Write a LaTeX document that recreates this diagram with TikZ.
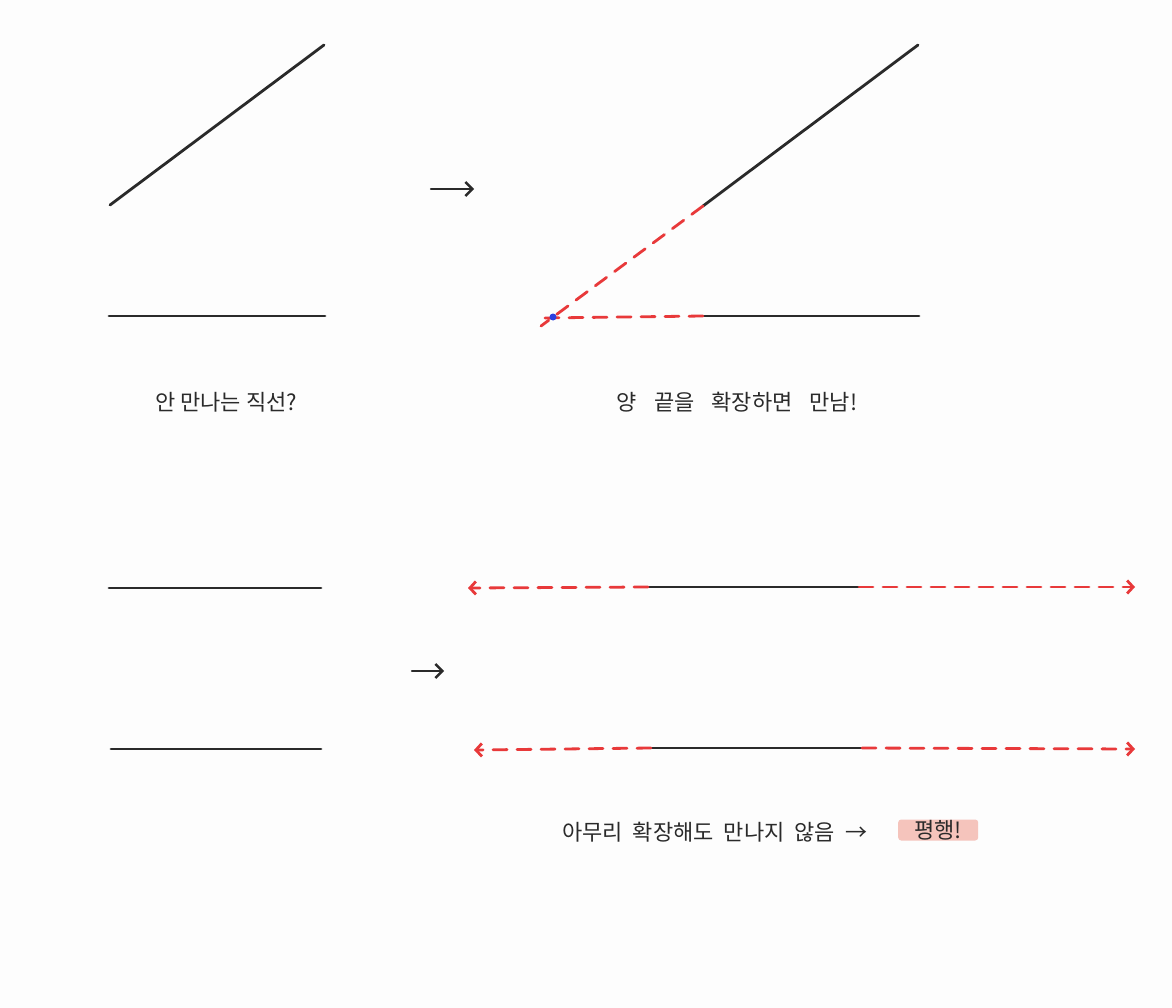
\documentclass[tikz,border=0pt]{standalone}
\usepackage{fontspec}
\usepackage{xcolor}
\usetikzlibrary{arrows.meta}
\newfontfamily\hangul{Noto Sans CJK KR}
\definecolor{paperwhite}{HTML}{FDFDFD}
\definecolor{inkblack}{HTML}{2A2A2A}
\definecolor{extred}{HTML}{E8393A}
\definecolor{meetblue}{HTML}{2B3FE0}
\definecolor{peachmark}{HTML}{F5C4BC}

\tikzset{
    seg/.style={draw=inkblack, line width=2.8pt, line cap=round},
    ext/.style={draw=extred, line width=2.8pt, line cap=round, dash pattern=on 14pt off 10pt},
    goarrow/.style={draw=inkblack, line width=2.4pt, line cap=round, -{Straight Barb[length=7pt, width=14pt]}},
    caption/.style={font=\hangul\fontsize{22}{26}\selectfont, text=inkblack, inner sep=0pt},
    gap/.style={execute at begin node={\spaceskip=#1\relax}}
}

\begin{document}
\begin{tikzpicture}[x=1pt, y=-1pt]
    \fill[paperwhite] (0,0) rectangle (1172,1008);
    \useasboundingbox (0,0) rectangle (1172,1008);

    % top left: two segments
    \coordinate (slantA) at (110,205);
    \coordinate (slantB) at (324,45);
    \coordinate (flatA) at (109,316);
    \coordinate (flatB) at (325,316);
    \draw[seg] (slantA) -- (slantB);
    \draw[seg] (flatA) -- (flatB);
    \node[caption, gap=5pt] (q1) at (226,402) {안 만나는 직선?};

    % arrow to the right
    \coordinate (go1a) at (431,189);
    \coordinate (go1b) at (474,189);
    \draw[goarrow] (go1a) -- (go1b);

    % top right: extended segments meet
    \coordinate (slantC) at (703,206);
    \coordinate (slantD) at (918,45);
    \coordinate (flatC) at (703,316);
    \coordinate (flatD) at (919,316);
    \coordinate (slantEnd) at (541,326);
    \coordinate (flatEnd) at (543,318);
    \coordinate (meet) at (553,317);
    \draw[seg] (slantC) -- (slantD);
    \draw[seg] (flatC) -- (flatD);
    \draw[ext] (slantC) -- (slantEnd);
    \draw[ext] (flatC) -- (flatEnd);
    \fill[meetblue] (meet) circle (3.5pt);
    \node[caption, gap=17pt] (q2) at (737,402) {양 끝을 확장하면 만남!};

    % bottom left: two flat segments
    \coordinate (upA) at (109,588);
    \coordinate (upB) at (321,588);
    \coordinate (lowA) at (111,749);
    \coordinate (lowB) at (321,749);
    \draw[seg] (upA) -- (upB);
    \draw[seg] (lowA) -- (lowB);

    % arrow to the right
    \coordinate (go2a) at (412,671);
    \coordinate (go2b) at (444,671);
    \draw[goarrow] (go2a) -- (go2b);

    % bottom right: extended both ways, never meet
    \coordinate (upC) at (648,587);
    \coordinate (upD) at (859,587);
    \coordinate (lowC) at (651,748);
    \coordinate (lowD) at (862,748);
    \coordinate (upLeft) at (468,588);
    \coordinate (upRight) at (1135,587);
    \coordinate (lowLeft) at (474,750);
    \coordinate (lowRight) at (1135,749);
    \draw[seg] (upC) -- (upD);
    \draw[seg] (lowC) -- (lowD);
    \foreach \from/\to in {upC/upLeft, upD/upRight, lowC/lowLeft, lowD/lowRight}
        \draw[ext, -{Straight Barb[length=6pt, width=13pt]}] (\from) -- (\to);

    \node[caption, gap=10pt, anchor=west] (q3) at (562,832) {아무리 확장해도 만나지 않음 →};
    \node[caption, anchor=west, fill=peachmark, rounded corners=3pt, minimum width=80pt, minimum height=21pt] (para) at (898,830) {평행!};
\end{tikzpicture}
\end{document}
